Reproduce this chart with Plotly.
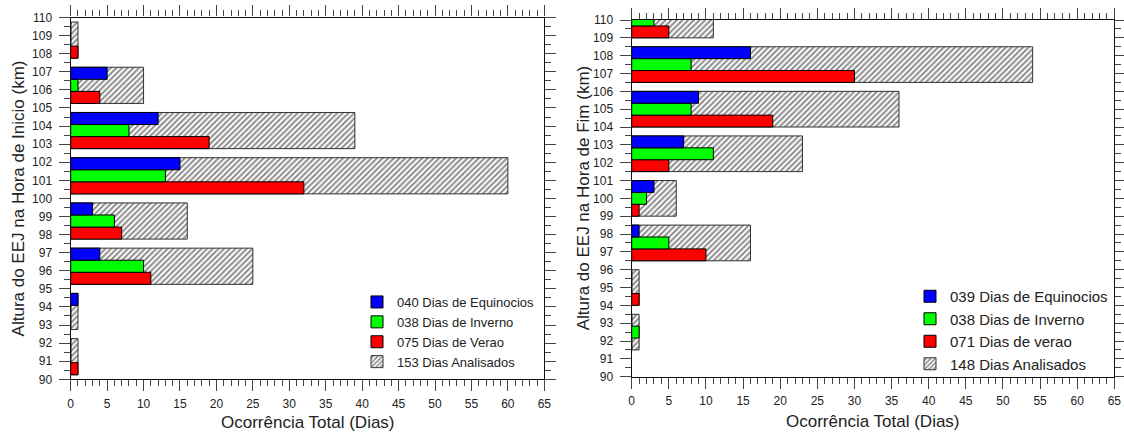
import plotly.graph_objects as go

# ---------------- data ----------------
# Altitude bins (km), centre of each 2.5 km bin
bins_inicio = [108.75, 106.25, 103.75, 101.25, 98.75, 96.25, 93.75, 91.25]
eq_inicio = [0, 5, 12, 15, 3, 4, 1, 0]
inv_inicio = [0, 1, 8, 13, 6, 10, 0, 0]
ver_inicio = [1, 4, 19, 32, 7, 11, 0, 1]
tot_inicio = [1, 10, 39, 60, 16, 25, 1, 1]
names_inicio = ["040 Dias de Equinocios", "038 Dias de Inverno",
                "075 Dias de Verao", "153 Dias Analisados"]

bins_fim = [110.0, 107.5, 105.0, 102.5, 100.0, 97.5, 95.0, 92.5]
eq_fim = [3, 16, 9, 7, 3, 1, 0, 0]
inv_fim = [3, 8, 8, 11, 2, 5, 0, 1]
ver_fim = [5, 30, 19, 5, 1, 10, 1, 0]
tot_fim = [11, 54, 36, 23, 6, 16, 1, 1]
names_fim = ["039 Dias de Equinocios", "038 Dias de Inverno",
             "071 Dias de verao", "148 Dias Analisados"]

ytitle_inicio = "Altura do EEJ na Hora de Inicio (km)"
ytitle_fim = "Altura do EEJ na Hora de Fim (km)"
xtitle = "Ocorrência Total (Dias)"

# ---------------- style ----------------
W, H = 1124, 435
BIN = 2.5
GROUP_W = BIN * 0.8
SUB_W = GROUP_W / 3
COLORS = ["#0000FF", "#00FF00", "#FF0000"]
TICK_FONT = dict(family="Liberation Sans Narrow, Arial Narrow, sans-serif", size=12, color="#222222")
TITLE_FONT = dict(family="Liberation Sans, Arial, sans-serif", size=17, color="#222222")

fig = go.Figure()


def add_panel(xa, ya, legend, bins, eq, inv, ver, tot, names):
    # hatched total bar in the background
    fig.add_trace(go.Bar(
        x=tot, y=bins, orientation="h", name=names[3], xaxis=xa, yaxis=ya,
        legend=legend, legendrank=4, width=GROUP_W, offset=-GROUP_W / 2,
        marker=dict(color="white", line=dict(color="#333333", width=1),
                    pattern=dict(shape="/", size=4, solidity=0.5,
                                 fgcolor="#1a1a1a", bgcolor="white")),
    ))
    # red (bottom), green (middle), blue (top)
    series = [(ver, names[2], COLORS[2], 3, 0), (inv, names[1], COLORS[1], 2, 1),
              (eq, names[0], COLORS[0], 1, 2)]
    for vals, nm, col, rank, k in series:
        fig.add_trace(go.Bar(
            x=vals, y=bins, orientation="h", name=nm, xaxis=xa, yaxis=ya,
            legend=legend, legendrank=rank, width=SUB_W,
            offset=-GROUP_W / 2 + k * SUB_W,
            marker=dict(color=col, line=dict(color="black", width=1)),
        ))


add_panel("x", "y", "legend", bins_inicio, eq_inicio, inv_inicio, ver_inicio, tot_inicio, names_inicio)
add_panel("x2", "y2", "legend2", bins_fim, eq_fim, inv_fim, ver_fim, tot_fim, names_fim)


def px_x(p):
    return p / W


def px_y(p):
    return 1 - p / H


def xaxis_style(domain, anchor):
    return dict(domain=domain, anchor=anchor, range=[0, 65], tick0=0, dtick=5,
                ticks="outside", ticklen=11, tickwidth=1, tickcolor="#444444",
                minor=dict(dtick=1, ticks="outside", ticklen=6, tickcolor="#444444", tickwidth=1),
                showline=True, linecolor="#111111", linewidth=1.3, mirror="ticks",
                showgrid=False, zeroline=False, tickfont=TICK_FONT, automargin=False,
                ticklabelstandoff=2)


def yaxis_style(domain, anchor):
    return dict(domain=domain, anchor=anchor, range=[90, 110], tick0=90, dtick=1,
                ticks="outside", ticklen=11, tickwidth=1, tickcolor="#444444",
                minor=dict(dtick=0.5, ticks="outside", ticklen=6, tickcolor="#444444", tickwidth=1),
                showline=True, linecolor="#111111", linewidth=1.3, mirror="ticks",
                showgrid=False, zeroline=False, tickfont=TICK_FONT, automargin=False,
                ticklabelstandoff=4)


LEG_FONT1 = dict(family="Liberation Sans, Arial, sans-serif", size=13, color="#222222")
LEG_FONT2 = dict(family="Liberation Sans, Arial, sans-serif", size=15, color="#222222")

fig.update_layout(
    width=W, height=H, margin=dict(l=0, r=0, t=0, b=0),
    paper_bgcolor="white", plot_bgcolor="white",
    barmode="overlay",
    xaxis=xaxis_style([px_x(70.7), px_x(544.3)], "y"),
    yaxis=yaxis_style([px_y(379.3), px_y(17.5)], "x"),
    xaxis2=xaxis_style([px_x(631.7), px_x(1114.3)], "y2"),
    yaxis2=yaxis_style([px_y(376.7), px_y(20)], "x2"),
    legend=dict(x=px_x(357), y=px_y(287), xanchor="left", yanchor="top",
                font=LEG_FONT1, bgcolor="rgba(0,0,0,0)", traceorder="normal",
                tracegroupgap=0),
    legend2=dict(x=px_x(910), y=px_y(280), xanchor="left", yanchor="top",
                 font=LEG_FONT2, bgcolor="rgba(0,0,0,0)", traceorder="normal",
                 tracegroupgap=0),
    annotations=[
        dict(text=ytitle_inicio, x=px_x(18), y=px_y(198.4), xref="paper", yref="paper",
             textangle=-90, showarrow=False, font=TITLE_FONT, xanchor="center", yanchor="middle"),
        dict(text=ytitle_fim, x=px_x(583), y=px_y(198.3), xref="paper", yref="paper",
             textangle=-90, showarrow=False, font=TITLE_FONT, xanchor="center", yanchor="middle"),
        dict(text=xtitle, x=px_x(307.5), y=px_y(422), xref="paper", yref="paper",
             showarrow=False, font=TITLE_FONT, xanchor="center", yanchor="middle"),
        dict(text=xtitle, x=px_x(873), y=px_y(421), xref="paper", yref="paper",
             showarrow=False, font=TITLE_FONT, xanchor="center", yanchor="middle"),
    ],
)

fig.write_html("out.html", config={"displayModeBar": False},
               post_script="document.body.style.margin='0px';document.body.style.overflow='hidden';")
